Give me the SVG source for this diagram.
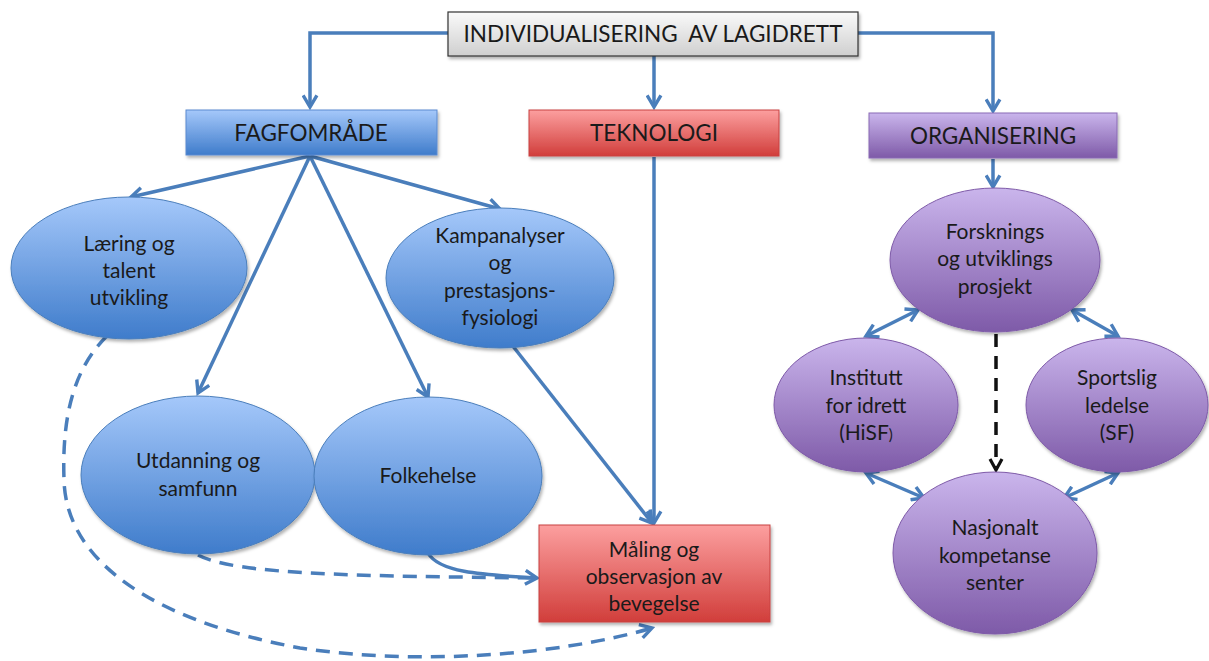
<svg xmlns="http://www.w3.org/2000/svg" width="1209" height="661" viewBox="0 0 1209 661">
<style>
.t{font-family:Lato,"Liberation Sans",sans-serif;fill:#1a1a1a;text-anchor:middle}
.bt{font-size:22.5px}
.et{font-size:21px}
.c{fill:none;stroke:#4a7ebb;stroke-width:3.5}
.d{stroke-dasharray:14 9}
</style>
<defs>
<linearGradient id="gGray" x1="0" y1="0" x2="0" y2="1"><stop offset="0" stop-color="#fafafa"/><stop offset="1" stop-color="#cfcfcf"/></linearGradient>
<linearGradient id="gBlue" x1="0" y1="0" x2="0" y2="1"><stop offset="0" stop-color="#a5c8fa"/><stop offset="1" stop-color="#3f7ccb"/></linearGradient>
<linearGradient id="gRed" x1="0" y1="0" x2="0" y2="1"><stop offset="0" stop-color="#fc9f9f"/><stop offset="1" stop-color="#d13e3b"/></linearGradient>
<linearGradient id="gPur" x1="0" y1="0" x2="0" y2="1"><stop offset="0" stop-color="#cab5ec"/><stop offset="1" stop-color="#7e5aa8"/></linearGradient>
<filter id="sh" x="-10%" y="-10%" width="130%" height="140%"><feDropShadow dx="1.5" dy="2.5" stdDeviation="1.5" flood-color="#000" flood-opacity="0.3"/></filter>
<marker id="arr" viewBox="0 0 16 16" refX="13" refY="8" markerWidth="17" markerHeight="17" markerUnits="userSpaceOnUse" orient="auto-start-reverse"><path d="M2,1.5 L13,8 L2,14.5" fill="none" stroke="#4a7ebb" stroke-width="3.2"/></marker>
<marker id="arrK" viewBox="0 0 16 16" refX="13" refY="8" markerWidth="16" markerHeight="16" markerUnits="userSpaceOnUse" orient="auto"><path d="M2,2 L13,8 L2,14" fill="none" stroke="#111" stroke-width="3.2"/></marker>
</defs>

<g id="connectors">
<path class="c" d="M448,33 H310 V107" marker-end="url(#arr)"/>
<path class="c" d="M858,33 H993 V111" marker-end="url(#arr)"/>
<path class="c" d="M654,56 V107" marker-end="url(#arr)"/>
<path class="c" d="M310,156 L131,197" marker-end="url(#arr)"/>
<path class="c" d="M310,156 L500,209" marker-end="url(#arr)"/>
<path class="c" d="M310,156 L198,393" marker-end="url(#arr)"/>
<path class="c" d="M310,156 L428,397" marker-end="url(#arr)"/>
<path class="c" d="M654,157 V523" marker-end="url(#arr)"/>
<path class="c" d="M512,345 L652,523" marker-end="url(#arr)"/>
<path class="c d" d="M198,555 C235,575 360,576 537,578"/>
<path class="c" d="M428,553 C440,574 490,575 537,578" marker-end="url(#arr)"/>
<path class="c d" d="M107,336 C72,370 62,420 64,480 C66,560 150,620 300,648 C420,666 560,655 652,628" marker-end="url(#arr)"/>
<path class="c" d="M993,159 V187" marker-end="url(#arr)"/>
<path class="c" d="M918,310 L866,336" marker-start="url(#arr)" marker-end="url(#arr)"/>
<path class="c" d="M1072,310 L1118,336" marker-start="url(#arr)" marker-end="url(#arr)"/>
<path class="c" d="M866,473 L924,498" marker-start="url(#arr)" marker-end="url(#arr)"/>
<path class="c" d="M1118,473 L1064,498" marker-start="url(#arr)" marker-end="url(#arr)"/>
<path d="M996,334 V470" fill="none" stroke="#111" stroke-width="3.5" stroke-dasharray="13 9" marker-end="url(#arrK)"/>
</g>

<g id="n-top"><rect x="448" y="12" width="410" height="44" fill="url(#gGray)" stroke="#333" stroke-width="1.2" filter="url(#sh)"/><text class="t" x="653" y="42" font-size="22.5" xml:space="preserve">INDIVIDUALISERING  AV LAGIDRETT</text></g>

<g id="n-fag"><rect x="186" y="110" width="251" height="45" fill="url(#gBlue)" stroke="#5a8ad0" stroke-width="1" filter="url(#sh)"/><text class="t bt" x="311" y="141">FAGFOMRÅDE</text></g>
<g id="n-tek"><rect x="529" y="110" width="250" height="46" fill="url(#gRed)" stroke="#c84040" stroke-width="1" filter="url(#sh)"/><text class="t bt" x="654" y="141">TEKNOLOGI</text></g>
<g id="n-org"><rect x="869" y="113" width="248" height="45" fill="url(#gPur)" stroke="#8a6ab5" stroke-width="1" filter="url(#sh)"/><text class="t bt" x="993" y="144">ORGANISERING</text></g>

<g id="n-laer"><ellipse cx="129" cy="268" rx="118" ry="71" fill="url(#gBlue)" stroke="#4a7ebb" stroke-width="1" filter="url(#sh)"/><text class="t et" x="129" y="251">Læring og</text><text class="t et" x="129" y="278">talent</text><text class="t et" x="129" y="305">utvikling</text></g>
<g id="n-kamp"><ellipse cx="500" cy="278" rx="114" ry="70" fill="url(#gBlue)" stroke="#4a7ebb" stroke-width="1" filter="url(#sh)"/><text class="t et" x="500" y="243">Kampanalyser</text><text class="t et" x="500" y="270">og</text><text class="t et" x="500" y="298">prestasjons-</text><text class="t et" x="500" y="325">fysiologi</text></g>
<g id="n-utd"><ellipse cx="198" cy="475" rx="117" ry="79" fill="url(#gBlue)" stroke="#4a7ebb" stroke-width="1" filter="url(#sh)"/><text class="t et" x="198" y="468">Utdanning og</text><text class="t et" x="198" y="496">samfunn</text></g>
<g id="n-folk"><ellipse cx="428" cy="476" rx="114" ry="79" fill="url(#gBlue)" stroke="#4a7ebb" stroke-width="1" filter="url(#sh)"/><text class="t et" x="428" y="483">Folkehelse</text></g>
<g id="n-mal"><rect x="539" y="525" width="231" height="97" fill="url(#gRed)" stroke="#c84040" stroke-width="1" filter="url(#sh)"/><text class="t et" x="654" y="557">Måling og</text><text class="t et" x="654" y="584">observasjon av</text><text class="t et" x="654" y="611">bevegelse</text></g>

<g id="n-fors"><ellipse cx="995" cy="260" rx="105" ry="72" fill="url(#gPur)" stroke="#7e5aa8" stroke-width="1" filter="url(#sh)"/><text class="t et" x="995" y="239">Forsknings</text><text class="t et" x="995" y="266">og utviklings</text><text class="t et" x="995" y="294">prosjekt</text></g>
<g id="n-inst"><ellipse cx="866" cy="405" rx="92" ry="67" fill="url(#gPur)" stroke="#7e5aa8" stroke-width="1" filter="url(#sh)"/><text class="t et" x="866" y="385">Institutt</text><text class="t et" x="866" y="413">for idrett</text><text class="t et" x="866" y="440">(HiSF<tspan font-size="15">)</tspan></text></g>
<g id="n-sport"><ellipse cx="1117" cy="405" rx="91" ry="67" fill="url(#gPur)" stroke="#7e5aa8" stroke-width="1" filter="url(#sh)"/><text class="t et" x="1117" y="385">Sportslig</text><text class="t et" x="1117" y="413">ledelse</text><text class="t et" x="1117" y="440">(SF)</text></g>
<g id="n-nasj"><ellipse cx="995" cy="553" rx="102" ry="81" fill="url(#gPur)" stroke="#7e5aa8" stroke-width="1" filter="url(#sh)"/><text class="t et" x="995" y="535">Nasjonalt</text><text class="t et" x="995" y="563">kompetanse</text><text class="t et" x="995" y="590">senter</text></g>
</svg>
